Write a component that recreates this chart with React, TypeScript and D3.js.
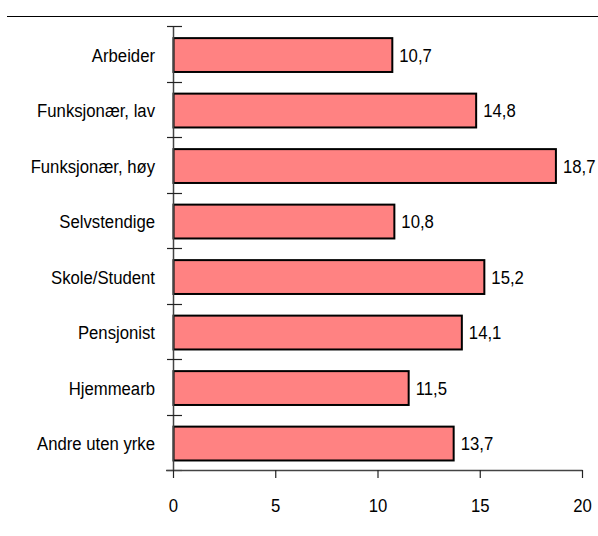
import React, { useEffect, useRef } from 'react';
import * as d3 from 'd3';

const categories = [
  'Arbeider',
  'Funksjonær, lav',
  'Funksjonær, høy',
  'Selvstendige',
  'Skole/Student',
  'Pensjonist',
  'Hjemmearb',
  'Andre uten yrke',
];
const values = [10.7, 14.8, 18.7, 10.8, 15.2, 14.1, 11.5, 13.7];
const xTicks = [0, 5, 10, 15, 20];

const fmt = (v: number) => v.toFixed(1).replace('.', ',');

const App = () => {
  const svgRef = useRef<SVGSVGElement>(null);

  useEffect(() => {
    const svg = d3.select(svgRef.current);
    svg.selectAll('*').remove();

    const left = 173.5;
    const right = 582.5;
    const top = 26;
    const bottom = 470;
    const font = 'Arial, "Liberation Sans", sans-serif';
    const fs = 19;
    const sx = 0.88; // the original font is tall and narrow

    const x = d3.scaleLinear().domain([0, 20]).range([left, right]);
    const y = d3.scaleBand<string>()
      .domain(categories)
      .range([top, bottom])
      .paddingInner(0.39)
      .paddingOuter(0.195)
      .align(0.56);
    const edge = d3.scaleLinear().domain([0, categories.length]).range([top, bottom]);

    // top rule
    svg.append('line')
      .attr('x1', 7).attr('x2', 598)
      .attr('y1', 16.5).attr('y2', 16.5)
      .attr('stroke', '#000').attr('stroke-width', 1.2);

    // bars
    svg.selectAll('rect.bar')
      .data(values)
      .enter().append('rect')
      .attr('class', 'bar')
      .attr('x', left)
      .attr('y', (d, i) => y(categories[i])!)
      .attr('width', d => x(d) - left)
      .attr('height', y.bandwidth())
      .attr('fill', '#ff8282')
      .attr('stroke', '#000')
      .attr('stroke-width', 2);

    // value labels
    svg.selectAll('text.val')
      .data(values)
      .enter().append('text')
      .attr('class', 'val')
      .attr('transform', (d, i) =>
        `translate(${x(d) + 7},${y(categories[i])! + y.bandwidth() / 2}) scale(${sx},1)`)
      .attr('dy', '0.36em')
      .attr('font-family', font)
      .attr('font-size', fs)
      .attr('fill', '#000')
      .text(d => fmt(d));

    // category labels
    svg.selectAll('text.cat')
      .data(categories)
      .enter().append('text')
      .attr('class', 'cat')
      .attr('transform', d => `translate(155,${y(d)! + y.bandwidth() / 2}) scale(${sx},1)`)
      .attr('dy', '0.36em')
      .attr('text-anchor', 'end')
      .attr('font-family', font)
      .attr('font-size', fs)
      .attr('fill', '#000')
      .text(d => d);

    // y axis
    svg.append('line')
      .attr('x1', left).attr('x2', left)
      .attr('y1', top).attr('y2', bottom)
      .attr('stroke', '#444').attr('stroke-width', 1.5);
    svg.selectAll('line.ytick')
      .data(d3.range(categories.length + 1))
      .enter().append('line')
      .attr('class', 'ytick')
      .attr('x1', 167).attr('x2', 182)
      .attr('y1', d => Math.round(edge(d)) + 0.5)
      .attr('y2', d => Math.round(edge(d)) + 0.5)
      .attr('stroke', '#222').attr('stroke-width', 1.2);

    // x axis
    svg.append('line')
      .attr('x1', 166).attr('x2', right)
      .attr('y1', bottom + 0.5).attr('y2', bottom + 0.5)
      .attr('stroke', '#444').attr('stroke-width', 1.5);
    svg.selectAll('line.xtick')
      .data(xTicks)
      .enter().append('line')
      .attr('class', 'xtick')
      .attr('x1', d => x(d)).attr('x2', d => x(d))
      .attr('y1', bottom).attr('y2', bottom + 8)
      .attr('stroke', '#222').attr('stroke-width', 1.2);
    svg.selectAll('text.xlab')
      .data(xTicks)
      .enter().append('text')
      .attr('class', 'xlab')
      .attr('transform', d => `translate(${x(d)},505) scale(${sx},1)`)
      .attr('dy', '0.36em')
      .attr('text-anchor', 'middle')
      .attr('font-family', font)
      .attr('font-size', fs)
      .attr('fill', '#000')
      .text(d => d);
  }, []);

  return (
    <svg
      ref={svgRef}
      width={598}
      height={536}
      style={{ position: 'absolute', left: 0, top: 0, background: '#fff' }}
    />
  );
};

export default App;
